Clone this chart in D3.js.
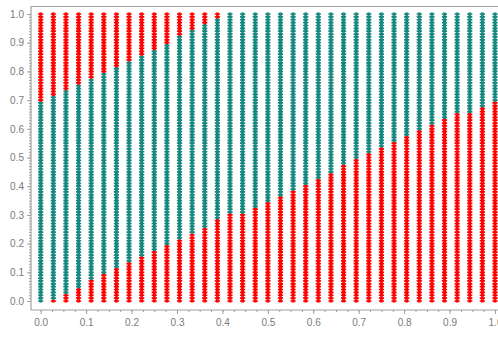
<!DOCTYPE html>
<html>
<head>
<meta charset="utf-8">
<script src="https://cdn.jsdelivr.net/npm/d3@7"></script>
<style>
  html, body { margin: 0; padding: 0; background: #fff; }
  svg { display: block; }
  .tick text { font-family: "Liberation Sans", Arial, sans-serif; font-size: 10px; fill: #7a7a7a; }
</style>
</head>
<body>
<svg id="chart" width="498" height="339"></svg>
<script>
// Sample columns along x (37 evenly spaced positions from 0 to 1)
const columnX = d3.range(37).map(i => i / 36);

// Grid levels along y within each column
const levelY = d3.range(101).map(k => k / 100);

// Lowest y of the upper red region per column (null: no upper red region)
const upperRedFrom = [0.70, 0.72, 0.74, 0.76, 0.78, 0.80, 0.82, 0.84, 0.86, 0.88,
                      0.90, 0.93, 0.95, 0.97, 0.99, null, null, null, null, null,
                      null, null, null, null, null, null, null, null, null, null,
                      null, null, null, null, null, null, null];

// Highest y of the lower red region per column (null: no lower red region)
const lowerRedTo = [null, 0.00, 0.02, 0.04, 0.07, 0.09, 0.11, 0.13, 0.15, 0.17,
                    0.19, 0.21, 0.23, 0.25, 0.28, 0.30, 0.30, 0.32, 0.34, 0.36,
                    0.38, 0.40, 0.42, 0.44, 0.47, 0.49, 0.51, 0.53, 0.55, 0.57,
                    0.59, 0.61, 0.63, 0.65, 0.65, 0.67, 0.69];

const xTicks = d3.range(0, 1.0001, 0.1);
const yTicks = d3.range(0, 1.0001, 0.1);

const RED = "#ff0000";
const TEAL = "#14877f";

const svg = d3.select("#chart");
const x = d3.scaleLinear().domain([0, 1]).range([40.7, 495]);
const y = d3.scaleLinear().domain([0, 1]).range([301, 14]);

const frame = { left: 31, top: 6, bottom: 310, right: 520 };

// Plot frame (top edge)
svg.append("line")
  .attr("x1", frame.left).attr("x2", frame.right)
  .attr("y1", frame.top + 0.5).attr("y2", frame.top + 0.5)
  .attr("stroke", "#a0a0a0").attr("stroke-width", 1.2);

// Points: one marker per (column, level), coloured by region
const points = [];
columnX.forEach((cx, i) => {
  levelY.forEach(ly => {
    const up = upperRedFrom[i];
    const lo = lowerRedTo[i];
    const isRed = (up !== null && ly >= up - 1e-9) || (lo !== null && ly <= lo + 1e-9);
    points.push({ x: cx, y: ly, red: isRed });
  });
});

// Chunky plus-shaped marker: narrow vertical core with short wide arm
const plusMarker = {
  draw(ctx) {
    const cw = 1.4, ch = 1.6, aw = 2.6, ah = 0.85;
    ctx.moveTo(-cw, -ch);
    ctx.lineTo(cw, -ch);
    ctx.lineTo(cw, -ah);
    ctx.lineTo(aw, -ah);
    ctx.lineTo(aw, ah);
    ctx.lineTo(cw, ah);
    ctx.lineTo(cw, ch);
    ctx.lineTo(-cw, ch);
    ctx.lineTo(-cw, ah);
    ctx.lineTo(-aw, ah);
    ctx.lineTo(-aw, -ah);
    ctx.lineTo(-cw, -ah);
    ctx.closePath();
  }
};
const marker = d3.symbol().type(plusMarker);

svg.append("g")
  .selectAll("path")
  .data(points)
  .join("path")
  .attr("transform", d => `translate(${x(d.x)},${y(d.y)})`)
  .attr("d", marker)
  .attr("fill", d => d.red ? RED : TEAL);

// Left axis: labelled major ticks plus fine minor ticks
const yAxisG = svg.append("g").attr("transform", `translate(${frame.left},0)`);
yAxisG.append("g")
  .call(d3.axisLeft(y).tickValues(d3.range(0, 1.0001, 0.01)).tickSize(2).tickFormat(""))
  .call(g => g.select(".domain").remove())
  .call(g => g.selectAll(".tick line").attr("stroke", "#a0a0a0"));
yAxisG.append("g")
  .call(d3.axisLeft(y).tickValues(yTicks).tickSize(4).tickPadding(3).tickFormat(d3.format(".1f")))
  .call(g => g.select(".domain").remove())
  .call(g => g.selectAll(".tick line").attr("stroke", "#a0a0a0"));
yAxisG.append("line")
  .attr("x1", 0).attr("x2", 0).attr("y1", frame.top).attr("y2", frame.bottom)
  .attr("stroke", "#a0a0a0").attr("stroke-width", 1.2);

// Bottom axis
const xAxisG = svg.append("g").attr("transform", `translate(0,${frame.bottom})`);
xAxisG.append("g")
  .call(d3.axisBottom(x).tickValues(d3.range(0, 1.0001, 0.025)).tickSize(2).tickFormat(""))
  .call(g => g.select(".domain").remove())
  .call(g => g.selectAll(".tick line").attr("stroke", "#a0a0a0"));
xAxisG.append("g")
  .call(d3.axisBottom(x).tickValues(xTicks).tickSize(4).tickPadding(5).tickFormat(d3.format(".1f")))
  .call(g => g.select(".domain").remove())
  .call(g => g.selectAll(".tick line").attr("stroke", "#a0a0a0"));
xAxisG.append("line")
  .attr("x1", frame.left).attr("x2", frame.right).attr("y1", 0).attr("y2", 0)
  .attr("stroke", "#a0a0a0").attr("stroke-width", 1.2);
</script>
</body>
</html>
